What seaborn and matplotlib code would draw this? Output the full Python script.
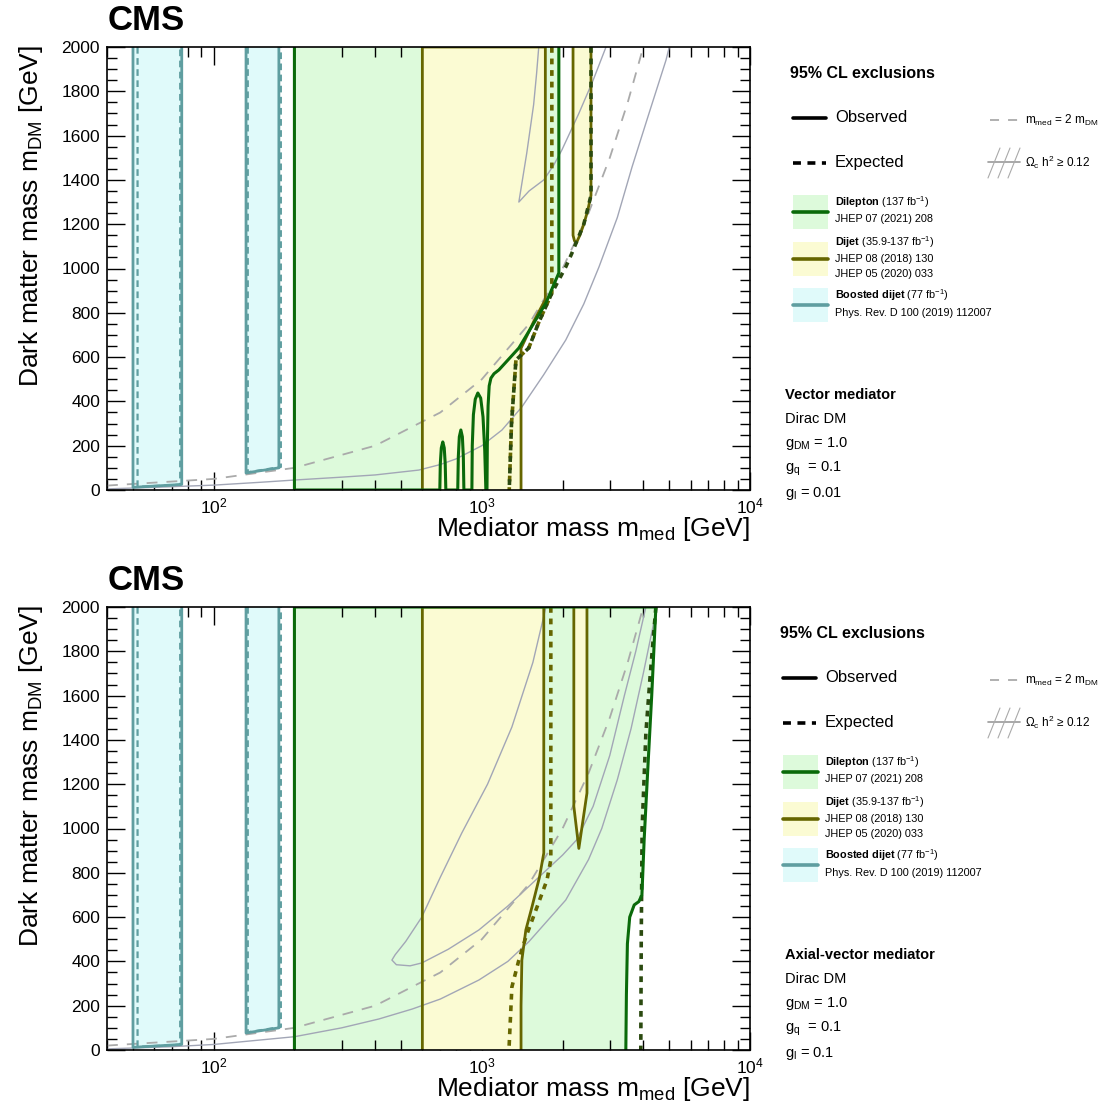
import matplotlib
matplotlib.use("Agg")
import matplotlib.pyplot as plt
from matplotlib.lines import Line2D
from matplotlib.patches import Rectangle
from matplotlib.ticker import MultipleLocator, LogLocator, NullFormatter
import seaborn as sns

# ---- boosted dijet (same in both panels) ----
bd1_obs_x = [50, 50, 76, 76]
bd1_obs_y = [2000, 12, 25, 2000]
bd1_exp_x = [52, 52, 75, 75]
bd1_exp_y = [2000, 14, 24, 2000]
bd2_obs_x = [132, 132, 175, 175]
bd2_obs_y = [2000, 77, 100, 2000]
bd2_exp_x = [134, 134, 178, 178]
bd2_exp_y = [2000, 80, 104, 2000]

# ---- mmed = 2 mDM ----
diag_x = [40, 100, 200, 400, 700, 1000, 1500, 2000, 2500, 3000, 3500, 4000]
diag_y = [20, 50, 100, 200, 350, 500, 750, 1000, 1250, 1500, 1750, 2000]

# ---- vector mediator (top) ----
vec_dl_obs_x = [200, 200, 697, 700, 706, 715, 724, 730, 734, 813, 817, 824, 835, 846, 853, 857,
                918, 921, 930, 945, 966, 990, 1010, 1025, 1035,
                1045, 1048, 1055, 1065, 1081, 1110, 1157, 1374, 1733, 1937, 1937]
vec_dl_obs_y = [2000, 0, 0, 120, 190, 217, 190, 120, 0, 0, 150, 240, 271, 240, 150, 0,
                0, 200, 340, 410, 438, 415, 330, 180, 0,
                0, 200, 380, 470, 505, 525, 542, 641, 844, 980, 2000]
vec_dl_exp_x = [2553, 2553, 2400, 2168, 2055, 1824, 1627, 1496, 1340, 1290, 1265]
vec_dl_exp_y = [2000, 1330, 1200, 1070, 1007, 889, 754, 641, 587, 300, 0]
vec_dj_obs_x = [600, 600, 1725, 1725, 1560, 1400, 1400]
vec_dj_obs_y = [0, 2000, 2000, 860, 760, 640, 0]
vec_dj_exp_x = [1824, 1824, 1627, 1496, 1340, 1290, 1265]
vec_dj_exp_y = [2000, 889, 754, 641, 587, 300, 0]
vec_dj2_x = [2188, 2188, 2215, 2250, 2320, 2400, 2480, 2553, 2553]
vec_dj2_y = [2000, 1150, 1125, 1115, 1150, 1200, 1260, 1330, 2000]
vec_relic_a_x = [40, 60, 100, 150, 200, 300, 400, 582, 700, 800, 1000, 1189, 1410, 1700, 2055,
                 2400, 2734, 3200, 3631, 4200, 4862, 5000]
vec_relic_a_y = [5, 12, 22, 35, 45, 58, 68, 90, 115, 140, 200, 271, 375, 520, 677,
                 840, 1007, 1230, 1458, 1700, 1941, 2000]
vec_relic_b_x = [1630, 1600, 1560, 1470, 1374, 1500, 1702, 1850, 1988, 2300, 2600, 2904]
vec_relic_b_y = [2000, 1880, 1740, 1520, 1300, 1350, 1400, 1465, 1535, 1700, 1850, 2000]

# ---- axial-vector mediator (bottom) ----
ax_dl_obs_x = [200, 200, 4457, 4300, 4150, 4030, 3953, 3850, 3700, 3560, 3490, 3460, 3443]
ax_dl_obs_y = [0, 2000, 2000, 1600, 1250, 950, 700, 670, 655, 600, 480, 250, 0]
ax_dl_exp_x = [4457, 4250, 4090, 3960, 3930, 3915]
ax_dl_exp_y = [2000, 1700, 1431, 1000, 500, 0]
ax_dj_obs_x = [600, 600, 1702, 1702, 1640, 1538, 1459, 1410, 1400, 1400]
ax_dj_obs_y = [0, 2000, 2000, 889, 780, 646, 542, 406, 200, 0]
ax_dj_exp_x = [1808, 1808, 1750, 1600, 1459, 1374, 1294, 1262]
ax_dj_exp_y = [2000, 858, 768, 640, 510, 406, 284, 0]
ax_dj2_x = [2203, 2203, 2300, 2466, 2466]
ax_dj2_y = [2000, 1100, 910, 1160, 2000]
ax_relic_a_x = [1734, 1550, 1294, 1050, 842, 700, 597, 520, 475, 462, 480, 540, 597, 750, 975, 1250,
                1633, 2000, 2254, 2600, 3000, 3400, 3750, 4090]
ax_relic_a_y = [2000, 1750, 1458, 1200, 980, 780, 600, 490, 430, 406, 385, 380, 393, 455, 542, 650,
                781, 880, 948, 1100, 1330, 1600, 1800, 2000]
ax_relic_b_x = [40, 70, 100, 200, 300, 413, 550, 700, 975, 1250, 1500, 2055, 2500, 2800, 3200, 3600,
                4000, 4500]
ax_relic_b_y = [5, 15, 25, 60, 100, 140, 185, 230, 316, 400, 490, 677, 860, 1000, 1220, 1450,
                1700, 2000]

y_ticks = [0, 200, 400, 600, 800, 1000, 1200, 1400, 1600, 1800, 2000]

GREEN_FILL, GREEN = "#ddfadb", "#0a6a0a"
YELLOW_FILL, OLIVE = "#fbfbd3", "#666600"
CYAN_FILL, TEAL = "#e0fafa", "#5f9ea0"
RELIC = "#a2a6b6"
DOTS = (0, (1.6, 1.6))

sns.set_theme(style="ticks")
plt.rcParams['font.family'] = ['Liberation Sans', 'DejaVu Sans']
plt.rcParams.update({
    'mathtext.fontset': 'custom',
    'mathtext.rm': 'Liberation Sans',
    'mathtext.it': 'Liberation Sans:italic',
    'mathtext.bf': 'Liberation Sans:bold',
    'mathtext.default': 'regular',
    'text.color': 'black',
    'axes.labelcolor': 'black',
    'xtick.color': 'black',
    'ytick.color': 'black',
})

W = H = 1108
fig = plt.figure(figsize=(11.08, 11.08), dpi=100)


def line(ax, x, y, color, lw, ls='-', z=3):
    sns.lineplot(x=x, y=y, ax=ax, sort=False, estimator=None, color=color,
                 linewidth=lw, linestyle=ls, legend=False, zorder=z)


def draw_panel(ax, dl_obs, dl_exp, dj_obs, dj_exp, dj2, relics):
    ax.set_xscale('log')
    # fills
    ax.fill(dl_obs[0], dl_obs[1], color=GREEN_FILL, lw=0, zorder=0.5)
    ax.fill(dj_obs[0], dj_obs[1], color=YELLOW_FILL, lw=0, zorder=0.6)
    ax.fill(dj2[0], dj2[1], color=YELLOW_FILL, lw=0, zorder=0.6)
    for bx, by in [(bd1_obs_x, bd1_obs_y), (bd2_obs_x, bd2_obs_y)]:
        ax.fill(bx, by, color=CYAN_FILL, lw=0, zorder=0.6)
    # relic density and mmed = 2 mDM
    for rx, ry in relics:
        line(ax, rx, ry, RELIC, 1.0, z=1.5)
    line(ax, diag_x, diag_y, "#aaaaaa", 1.3, ls=(0, (6, 5)), z=1.6)
    # boosted dijet
    line(ax, bd1_obs_x, bd1_obs_y, TEAL, 2.0)
    line(ax, bd2_obs_x, bd2_obs_y, TEAL, 2.0)
    line(ax, bd1_exp_x, bd1_exp_y, TEAL, 1.6, ls=(0, (3, 2)))
    line(ax, bd2_exp_x, bd2_exp_y, TEAL, 1.6, ls=(0, (3, 2)))
    # dijet
    line(ax, dj_obs[0], dj_obs[1], OLIVE, 2.0)
    line(ax, dj2[0], dj2[1], OLIVE, 2.0)
    line(ax, dj_exp[0], dj_exp[1], OLIVE, 2.6, ls=DOTS)
    # dilepton
    line(ax, dl_obs[0], dl_obs[1], GREEN, 2.2, z=3.2)
    line(ax, dl_exp[0], dl_exp[1], "#2b4a10", 2.6, ls=DOTS, z=3.1)

    ax.set_xlim(40, 10000)
    ax.set_ylim(0, 2000)
    ax.set_yticks(y_ticks)
    ax.yaxis.set_minor_locator(MultipleLocator(50))
    ax.xaxis.set_major_locator(LogLocator(base=10))
    ax.xaxis.set_minor_locator(LogLocator(base=10, subs=range(2, 10)))
    ax.xaxis.set_minor_formatter(NullFormatter())
    ax.tick_params(which='both', direction='in', top=True, right=True, colors='black', width=1.0,
                   labelsize=12.5)
    ax.tick_params(which='major', length=13, pad=5)
    ax.tick_params(which='minor', length=7)
    ax.set_xlabel('')
    ax.set_ylabel('')
    for s in ax.spines.values():
        s.set_color('black')
        s.set_linewidth(1.2)
        s.set_zorder(5)


def T(x, y, s, **kw):
    kw.setdefault('va', 'center')
    kw.setdefault('ha', 'left')
    kw.setdefault('color', 'black')
    fig.text(x / W, 1 - y / H, s, **kw)


def L(x1, x2, y1, y2, **kw):
    fig.add_artist(Line2D([x1 / W, x2 / W], [1 - y1 / H, 1 - y2 / H], transform=fig.transFigure, **kw))


def legend_block(dx, dy, model, gl):
    T(790 + dx, 73 + dy, '95% CL exclusions', fontsize=11.5, fontweight='bold')
    L(793 + dx, 826 + dx, 118 + dy, 118 + dy, color='black', lw=2.6)
    T(835 + dx, 118 + dy, 'Observed', fontsize=12)
    L(793 + dx, 826 + dx, 163 + dy, 163 + dy, color='black', lw=2.6, ls=(0, (2.2, 1.8)))
    T(835 + dx, 163 + dy, 'Expected', fontsize=12)
    # right column
    L(990, 1020, 120 + dy, 120 + dy, color='#aaaaaa', lw=1.3, ls=(0, (5, 5)))
    T(1025, 120 + dy, r'm$_{med}$ = 2 m$_{DM}$', fontsize=8.5)
    L(988, 1020, 162 + dy, 162 + dy, color='#999999', lw=1.2)
    for x0 in [988, 998, 1008]:
        L(x0, x0 + 12, 178 + dy, 148 + dy, color='#aaaaaa', lw=0.8)
    T(1025, 162 + dy, r'Ω$_c$ h$^2$ ≥ 0.12', fontsize=8.5)
    # entries
    entries = [
        (195, 34, GREEN_FILL, GREEN, [r'$\bf{Dilepton}$ (137 fb$^{-1}$)', 'JHEP 07 (2021) 208']),
        (242, 34, YELLOW_FILL, OLIVE, [r'$\bf{Dijet}$ (35.9-137 fb$^{-1}$)', 'JHEP 08 (2018) 130',
                                      'JHEP 05 (2020) 033']),
        (288, 34, CYAN_FILL, TEAL, [r'$\bf{Boosted\ dijet}$ (77 fb$^{-1}$)', 'Phys. Rev. D 100 (2019) 112007']),
    ]
    for top, h, fc, lc, texts in entries:
        fig.add_artist(Rectangle(((793 + dx) / W, 1 - (top + h + dy) / H), 35 / W, h / H,
                                 transform=fig.transFigure, facecolor=fc, edgecolor='none'))
        L(793 + dx, 828 + dx, top + h / 2 + dy, top + h / 2 + dy, color=lc, lw=2.6)
        n = len(texts)
        y0 = top + h / 2 - (n - 1) * 7.5
        for i, s in enumerate(texts):
            T(835 + dx, y0 + i * 15 + dy - (2 if i == 0 else 0), s, fontsize=7.8)
    T(785, 395 + dy, model, fontsize=10.5, fontweight='bold')
    T(785, 419 + dy, 'Dirac DM', fontsize=10.5)
    T(785, 444 + dy, r'g$_{DM}$ = 1.0', fontsize=10.5)
    T(785, 469 + dy, r'g$_{q}$  = 0.1', fontsize=10.5)
    T(785, 494 + dy, r'g$_{l}$ = ' + gl, fontsize=10.5)


panels = [
    (47, 'Vector mediator', '0.01',
     (vec_dl_obs_x, vec_dl_obs_y), (vec_dl_exp_x, vec_dl_exp_y), (vec_dj_obs_x, vec_dj_obs_y),
     (vec_dj_exp_x, vec_dj_exp_y), (vec_dj2_x, vec_dj2_y),
     [(vec_relic_a_x, vec_relic_a_y), (vec_relic_b_x, vec_relic_b_y)], 0),
    (607, 'Axial-vector mediator', '0.1',
     (ax_dl_obs_x, ax_dl_obs_y), (ax_dl_exp_x, ax_dl_exp_y), (ax_dj_obs_x, ax_dj_obs_y),
     (ax_dj_exp_x, ax_dj_exp_y), (ax_dj2_x, ax_dj2_y),
     [(ax_relic_a_x, ax_relic_a_y), (ax_relic_b_x, ax_relic_b_y)], -10),
]

for top, model, gl, dl_obs, dl_exp, dj_obs, dj_exp, dj2, relics, dx in panels:
    ax = fig.add_axes([107 / W, 1 - (top + 443) / H, 643 / W, 443 / H])
    draw_panel(ax, dl_obs, dl_exp, dj_obs, dj_exp, dj2, relics)
    dy = top - 47
    T(108, 20 + dy, 'CMS', fontsize=25, fontweight='bold')
    fig.text(31 / W, 1 - (top - 2) / H, r'Dark matter mass m$_{DM}$ [GeV]', rotation=90,
             ha='center', va='top', fontsize=19, color='black')
    T(750, 529 + dy, r'Mediator mass m$_{med}$ [GeV]', ha='right', fontsize=19)
    legend_block(dx, dy, model, gl)

fig.savefig('out.png', dpi=100)
